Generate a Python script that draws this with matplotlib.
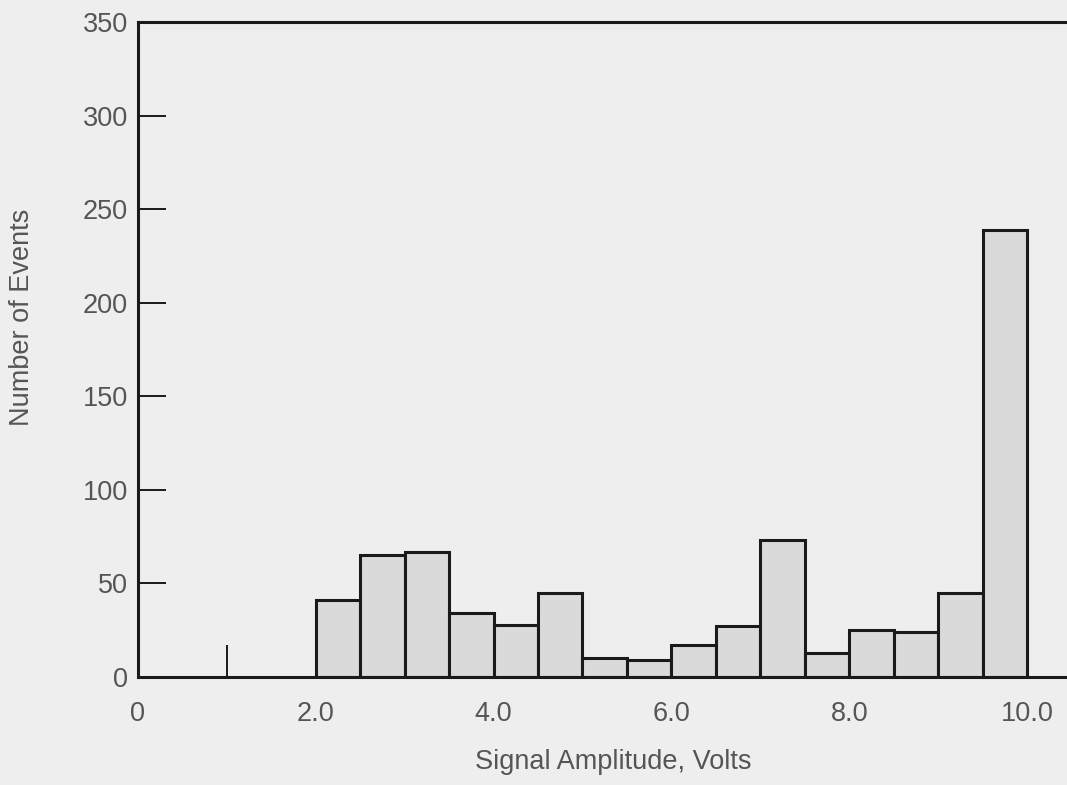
import matplotlib
matplotlib.use("Agg")
import matplotlib.pyplot as plt
import numpy as np

# histogram data (0.5 V bins from 2.0 to 10.0)
bin_edges = [2.0, 2.5, 3.0, 3.5, 4.0, 4.5, 5.0, 5.5, 6.0, 6.5, 7.0, 7.5, 8.0, 8.5, 9.0, 9.5, 10.0]
counts = [41, 65, 67, 34, 28, 45, 10, 9, 17, 27, 73, 13, 25, 24, 45, 239]

x_ticks = [0, 2, 4, 6, 8, 10]
x_tick_labels = ["0", "2.0", "4.0", "6.0", "8.0", "10.0"]
y_ticks = [0, 50, 100, 150, 200, 250, 300, 350]

plt.rcParams['font.family'] = ['Liberation Sans', 'DejaVu Sans']

bg = "#eeeeee"
text_col = "#555555"

fig = plt.figure(figsize=(10.67, 7.85), dpi=100, facecolor=bg)
ax = fig.add_axes([0.1293, 0.1376, 0.8707, 0.8344], facecolor=bg)

widths = np.diff(bin_edges)
ax.bar(bin_edges[:-1], counts, width=widths, align="edge",
       color="#dadada", edgecolor="#1a1a1a", linewidth=2.2)

ax.set_xlim(0, 10.45)
ax.set_ylim(0, 350)

for side in ["left", "top", "bottom"]:
    ax.spines[side].set_linewidth(2.2)
    ax.spines[side].set_color("#1a1a1a")
ax.spines["right"].set_visible(False)

ax.set_yticks(y_ticks)
ax.set_yticklabels([str(v) for v in y_ticks])
ax.tick_params(axis="y", direction="in", length=20, width=1.4, color="#1a1a1a",
               pad=7, labelsize=19.5, labelcolor=text_col)

ax.set_xticks(x_ticks)
ax.set_xticklabels(x_tick_labels)
ax.tick_params(axis="x", which="major", length=0, pad=17, labelsize=19.5, labelcolor=text_col)
ax.set_xticks([1.0], minor=True)
ax.tick_params(axis="x", which="minor", direction="in", length=23, width=1.4, color="#1a1a1a")

fig.text(0.575, 0.029, "Signal Amplitude, Volts", ha="center", va="center",
         fontsize=19.5, color=text_col)
fig.text(0.021, 0.596, "Number of Events", ha="center", va="center",
         rotation=90, fontsize=19.5, color=text_col)

fig.savefig("out.png", dpi=100, facecolor=bg)
